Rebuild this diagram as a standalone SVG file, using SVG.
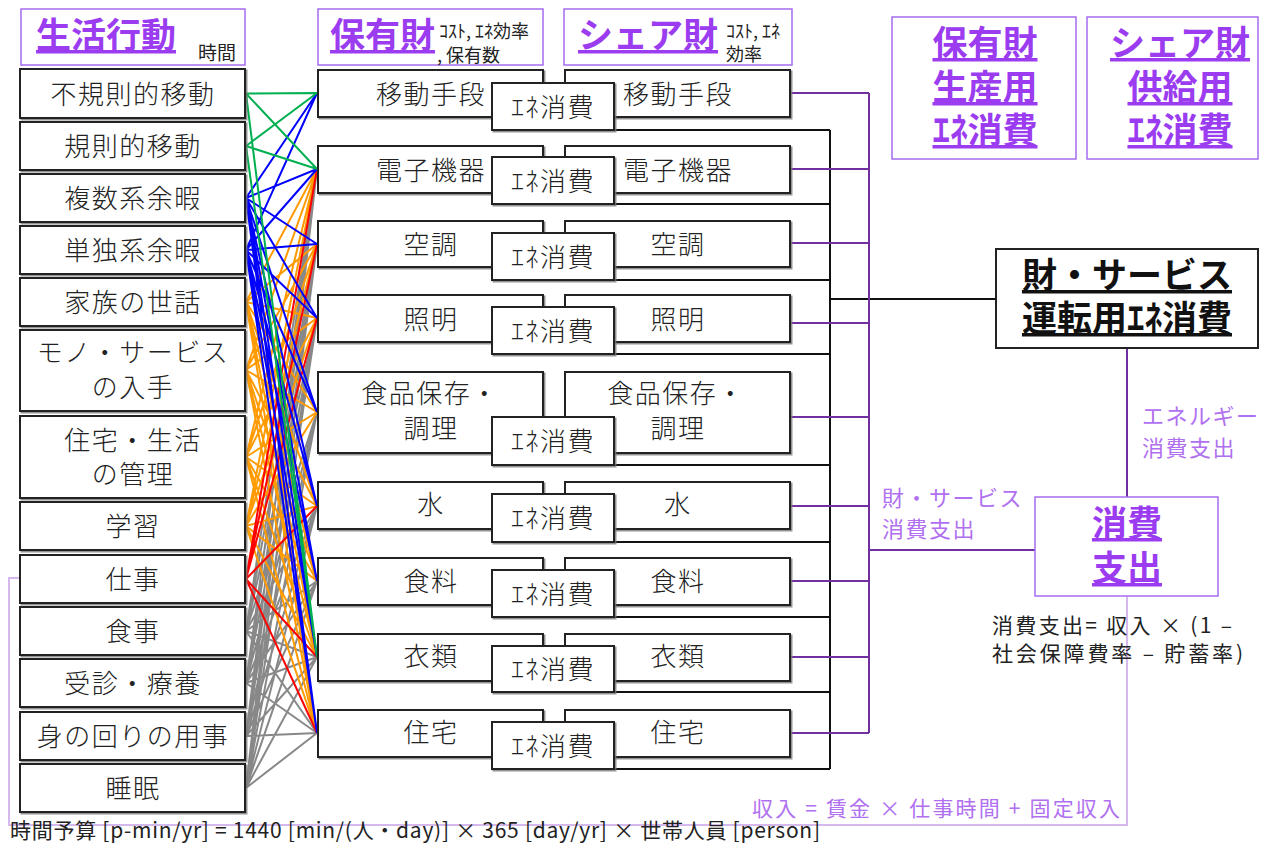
<svg xmlns="http://www.w3.org/2000/svg" width="1274" height="844" viewBox="0 0 1274 844">
<style>
text{font-family:"Noto Sans CJK JP","Noto Sans",sans-serif;}
.bx{fill:#fff;stroke:#222;stroke-width:2;filter:url(#sh);}
.hb{fill:#fff;stroke:#a66cf0;stroke-width:1.5;}
.t{font-size:26px;letter-spacing:1.5px;fill:#222;text-anchor:middle;font-weight:300;}
.h{font-size:35px;font-weight:bold;fill:#9b3cf0;text-decoration:underline;}
.s{font-size:18px;fill:#222;}
.lab{font-size:22px;letter-spacing:1.5px;fill:#b070f0;}
.f{font-size:21px;fill:#222;}
.cn{fill:none;stroke-width:2;}
</style>
<defs>
<filter id="sh" x="-5%" y="-5%" width="115%" height="120%">
<feDropShadow dx="1.5" dy="1.5" stdDeviation="0.6" flood-color="#777" flood-opacity="0.8"/>
</filter>
</defs>

<!-- headers -->
<g id="h-seikatsu">
<rect class="hb" x="21" y="9" width="224" height="56"/>
<text class="h" x="36" y="48">生活行動</text>
<text class="s" x="198" y="60" style="font-size:19px">時間</text>
</g>
<g id="h-hoyuu">
<rect class="hb" x="318" y="9" width="225" height="56"/>
<text class="h" x="330" y="48">保有財</text>
<text class="s" x="439" y="38">ｺｽﾄ, ｴﾈ効率</text>
<text class="s" x="437" y="62">, 保有数</text>
</g>
<g id="h-share">
<rect class="hb" x="564" y="9" width="228" height="56"/>
<text class="h" x="578" y="48">シェア財</text>
<text class="s" x="726" y="38">ｺｽﾄ, ｴﾈ</text>
<text class="s" x="726" y="61">効率</text>
</g>
<g id="h-hoyuu-prod">
<rect class="hb" x="892" y="17" width="184" height="142"/>
<text class="h" x="985" y="56" text-anchor="middle">保有財</text>
<text class="h" x="985" y="100" text-anchor="middle">生産用</text>
<text class="h" x="985" y="143" text-anchor="middle">ｴﾈ消費</text>
</g>
<g id="h-share-supply">
<rect class="hb" x="1087" y="17" width="171" height="142"/>
<text class="h" x="1180" y="56" text-anchor="middle">シェア財</text>
<text class="h" x="1180" y="100" text-anchor="middle">供給用</text>
<text class="h" x="1180" y="143" text-anchor="middle">ｴﾈ消費</text>
</g>

<!-- connectors -->
<g id="connectors">
<path class="cn" stroke="#d4b8ee" d="M1127 596V825H9V578H20"/>
<path class="cn" stroke="#888" d="M246 631L317 169M246 631L317 244M246 631L317 318M246 631L317 412M246 631L317 506M246 631L317 581M246 631L317 657M246 631L317 733M246 683L317 169M246 683L317 244M246 683L317 318M246 683L317 412M246 683L317 506M246 683L317 581M246 683L317 657M246 683L317 733M246 736L317 169M246 736L317 244M246 736L317 318M246 736L317 412M246 736L317 506M246 736L317 581M246 736L317 657M246 736L317 733M246 788L317 169M246 788L317 244M246 788L317 318M246 788L317 412M246 788L317 506M246 788L317 581M246 788L317 657M246 788L317 733"/>
<path class="cn" stroke="#ff9a00" d="M246 302L317 169M246 302L317 244M246 302L317 318M246 302L317 412M246 302L317 506M246 302L317 581M246 302L317 657M246 302L317 733M246 370L317 169M246 370L317 244M246 370L317 318M246 370L317 412M246 370L317 506M246 370L317 581M246 370L317 657M246 370L317 733M246 457L317 169M246 457L317 244M246 457L317 318M246 457L317 412M246 457L317 506M246 457L317 581M246 457L317 657M246 457L317 733M246 526L317 169M246 526L317 244M246 526L317 318M246 526L317 412M246 526L317 506M246 526L317 581M246 526L317 657M246 526L317 733"/>
<path class="cn" stroke="#ff0000" d="M246 579L317 169M246 579L317 244M246 579L317 318M246 579L317 506M246 579L317 657M246 579L317 733"/>
<path class="cn" stroke="#0000ff" d="M246 198L317 93M246 198L317 169M246 198L317 244M246 198L317 318M246 198L317 412M246 198L317 506M246 198L317 581M246 198L317 657M246 198L317 733M246 250L317 93M246 250L317 169M246 250L317 244M246 250L317 318M246 250L317 412M246 250L317 506M246 250L317 581M246 250L317 657M246 250L317 733"/>
<path class="cn" stroke="#00b050" d="M246 93.5L317 93M246 93.5L317 169M246 93.5L317 657M246 146L317 93M246 146L317 169M246 146L317 657"/>
<path class="cn" stroke="#111" d="M614 130H830M614 204H830M614 280H830M614 354H830M614 465H830M614 542H830M614 617H830M614 692H830M614 769H830M830 130V769M830 299H996"/>
<path class="cn" stroke="#7030a0" d="M790 93H869M790 169H869M790 243H869M790 323H869M790 417H869M790 506H869M790 581H869M790 657H869M790 733H869M869 93V733M869 550H1035M1127 348V497"/>
</g>

<!-- left column -->
<g id="a1"><rect class="bx" x="20" y="69" width="225" height="49"/><text class="t" x="133" y="103.5">不規則的移動</text></g>
<g id="a2"><rect class="bx" x="20" y="122" width="225" height="48"/><text class="t" x="133" y="156">規則的移動</text></g>
<g id="a3"><rect class="bx" x="20" y="174" width="225" height="48"/><text class="t" x="133" y="208">複数系余暇</text></g>
<g id="a4"><rect class="bx" x="20" y="226" width="225" height="48"/><text class="t" x="133" y="260">単独系余暇</text></g>
<g id="a5"><rect class="bx" x="20" y="278" width="225" height="48"/><text class="t" x="133" y="312">家族の世話</text></g>
<g id="a6"><rect class="bx" x="20" y="330" width="225" height="81"/><text class="t" x="133" y="362">モノ・サービス</text><text class="t" x="133" y="397">の入手</text></g>
<g id="a7"><rect class="bx" x="20" y="416" width="225" height="82"/><text class="t" x="133" y="450">住宅・生活</text><text class="t" x="133" y="484">の管理</text></g>
<g id="a8"><rect class="bx" x="20" y="502" width="225" height="48"/><text class="t" x="133" y="536">学習</text></g>
<g id="a9"><rect class="bx" x="20" y="555" width="225" height="48"/><text class="t" x="133" y="589">仕事</text></g>
<g id="a10"><rect class="bx" x="20" y="607" width="225" height="48"/><text class="t" x="133" y="641">食事</text></g>
<g id="a11"><rect class="bx" x="20" y="659" width="225" height="48"/><text class="t" x="133" y="693">受診・療養</text></g>
<g id="a12"><rect class="bx" x="20" y="712" width="225" height="48"/><text class="t" x="133" y="746">身の回りの用事</text></g>
<g id="a13"><rect class="bx" x="20" y="764" width="225" height="48"/><text class="t" x="133" y="798">睡眠</text></g>

<!-- goods rows -->
<g id="g1"><rect class="bx" x="318" y="70" width="225" height="47"/><text class="t" x="431" y="103.5">移動手段</text><rect class="bx" x="565" y="70" width="225" height="47"/><text class="t" x="678" y="103.5">移動手段</text><rect class="bx" x="492" y="83" width="122" height="47"/><text class="t" x="553" y="116.5">ｴﾈ消費</text></g>
<g id="g2"><rect class="bx" x="318" y="146" width="225" height="47"/><text class="t" x="431" y="179.5">電子機器</text><rect class="bx" x="565" y="146" width="225" height="47"/><text class="t" x="678" y="179.5">電子機器</text><rect class="bx" x="492" y="157" width="122" height="47"/><text class="t" x="553" y="190.5">ｴﾈ消費</text></g>
<g id="g3"><rect class="bx" x="318" y="221" width="225" height="46"/><text class="t" x="431" y="254">空調</text><rect class="bx" x="565" y="221" width="225" height="46"/><text class="t" x="678" y="254">空調</text><rect class="bx" x="492" y="233" width="122" height="47"/><text class="t" x="553" y="266.5">ｴﾈ消費</text></g>
<g id="g4"><rect class="bx" x="318" y="295" width="225" height="47"/><text class="t" x="431" y="328.5">照明</text><rect class="bx" x="565" y="295" width="225" height="47"/><text class="t" x="678" y="328.5">照明</text><rect class="bx" x="492" y="307" width="122" height="47"/><text class="t" x="553" y="340.5">ｴﾈ消費</text></g>
<g id="g5"><rect class="bx" x="318" y="372" width="225" height="81"/><text class="t" x="430" y="403">食品保存・</text><text class="t" x="431" y="438">調理</text><rect class="bx" x="565" y="372" width="225" height="81"/><text class="t" x="676" y="403">食品保存・</text><text class="t" x="678" y="438">調理</text><rect class="bx" x="492" y="417" width="122" height="48"/><text class="t" x="553" y="451">ｴﾈ消費</text></g>
<g id="g6"><rect class="bx" x="318" y="482" width="225" height="47"/><text class="t" x="431" y="514">水</text><rect class="bx" x="565" y="482" width="225" height="47"/><text class="t" x="678" y="514">水</text><rect class="bx" x="492" y="494" width="122" height="48"/><text class="t" x="553" y="528">ｴﾈ消費</text></g>
<g id="g7"><rect class="bx" x="318" y="558" width="225" height="47"/><text class="t" x="431" y="591">食料</text><rect class="bx" x="565" y="558" width="225" height="47"/><text class="t" x="678" y="591">食料</text><rect class="bx" x="492" y="570" width="122" height="47"/><text class="t" x="553" y="603.5">ｴﾈ消費</text></g>
<g id="g8"><rect class="bx" x="318" y="634" width="225" height="47"/><text class="t" x="431" y="666">衣類</text><rect class="bx" x="565" y="634" width="225" height="47"/><text class="t" x="678" y="666">衣類</text><rect class="bx" x="492" y="646" width="122" height="46"/><text class="t" x="553" y="679">ｴﾈ消費</text></g>
<g id="g9"><rect class="bx" x="318" y="710" width="225" height="47"/><text class="t" x="431" y="742">住宅</text><rect class="bx" x="565" y="710" width="225" height="47"/><text class="t" x="678" y="742">住宅</text><rect class="bx" x="492" y="722" width="122" height="47"/><text class="t" x="553" y="755.5">ｴﾈ消費</text></g>

<!-- right side -->
<g id="unten">
<rect x="996" y="249" width="262" height="99" fill="#fff" stroke="#222" stroke-width="2"/>
<text x="1127" y="288" text-anchor="middle" font-size="35" font-weight="bold" fill="#111" text-decoration="underline">財・サービス</text>
<text x="1127" y="331" text-anchor="middle" font-size="35" font-weight="bold" fill="#111" text-decoration="underline">運転用ｴﾈ消費</text>
</g>
<g id="shouhi">
<rect class="hb" x="1035" y="497" width="183" height="99"/>
<text class="h" x="1127" y="536" text-anchor="middle">消費</text>
<text class="h" x="1127" y="581" text-anchor="middle">支出</text>
</g>
<g id="labels">
<text class="lab" x="1142" y="424">エネルギー</text>
<text class="lab" x="1142" y="456">消費支出</text>
<text class="lab" x="882" y="506">財・サービス</text>
<text class="lab" x="882" y="537">消費支出</text>
<text class="f" x="992" y="633" textLength="240" lengthAdjust="spacing">消費支出= 収入 × (1 –</text>
<text class="f" x="992" y="661" textLength="251" lengthAdjust="spacing">社会保障費率 – 貯蓄率)</text>
<text class="f" x="752" y="816" textLength="368" lengthAdjust="spacing" style="fill:#b070f0">収入 = 賃金 × 仕事時間 + 固定収入</text>
<text class="f" x="10" y="838" textLength="810" lengthAdjust="spacing">時間予算 [p-min/yr] = 1440 [min/(人・day)] × 365 [day/yr] × 世帯人員 [person]</text>
</g>
</svg>
